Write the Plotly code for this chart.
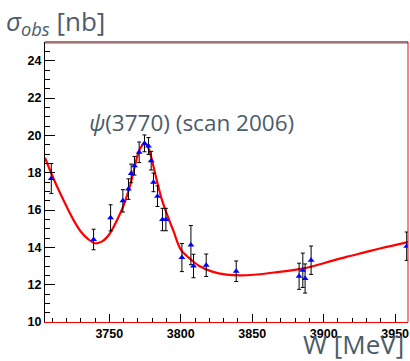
import plotly.graph_objects as go

# Measured data points
w_data = [3709.4, 3739.0, 3750.9, 3759.5, 3763.4, 3765.3, 3767.6, 3770.9, 3774.6,
          3777.4, 3779.3, 3780.9, 3783.7, 3787.2, 3789.6, 3800.8, 3807.1, 3808.9,
          3817.8, 3838.8, 3882.8, 3885.4, 3887.0, 3891.2, 3958.1]
sigma_data = [17.69, 14.42, 15.58, 16.49, 17.12, 17.96, 18.37, 19.09, 19.57,
              19.43, 18.64, 17.48, 16.74, 15.49, 15.49, 13.45, 14.12, 13.00,
              13.04, 12.72, 12.45, 12.77, 12.33, 13.31, 14.06]
sigma_err = [0.80, 0.55, 0.70, 0.60, 0.55, 0.50, 0.50, 0.55, 0.45,
             0.45, 0.50, 0.50, 0.55, 0.60, 0.60, 0.75, 1.05, 0.63,
             0.60, 0.55, 0.70, 0.92, 0.78, 0.76, 0.76]

# Fit curve
w_fit = [3705, 3710, 3715, 3720, 3725, 3730, 3735, 3740, 3745, 3750, 3755, 3760,
         3765, 3768, 3771, 3774, 3776, 3778, 3781, 3784, 3787, 3790, 3795, 3800,
         3806, 3813, 3822, 3832, 3842, 3851, 3865, 3883, 3893, 3905, 3916, 3928,
         3940, 3959]
sigma_fit = [18.8, 17.85, 17.0, 16.2, 15.46, 14.85, 14.45, 14.22, 14.32, 14.7, 15.4, 16.25,
             17.45, 18.4, 19.2, 19.52, 19.5, 19.2, 18.3, 17.35, 16.5, 15.85, 14.85, 13.88,
             13.42, 13.0, 12.7, 12.54, 12.5, 12.53, 12.65, 12.83, 13.0, 13.26, 13.49, 13.72,
             13.95, 14.28]

x_ticks = [3750, 3800, 3850, 3900, 3950]
y_ticks = [10, 12, 14, 16, 18, 20, 22, 24]

fig = go.Figure()
fig.add_trace(go.Scatter(x=w_fit, y=sigma_fit, mode="lines", line_shape="spline",
                         line=dict(color="#ff0000", width=2.2), hoverinfo="skip"))
fig.add_trace(go.Scatter(x=w_data, y=sigma_data, mode="markers",
                         marker=dict(symbol="triangle-up", color="#0000ff", size=6),
                         error_y=dict(type="data", array=sigma_err, color="black",
                                      thickness=1, width=2)))

tickfont = dict(family="Liberation Sans, Arial", size=12.5, color="black", weight="bold")
fig.update_xaxes(range=[3705, 3959], tickvals=x_ticks, ticks="inside", ticklen=8,
                 tickcolor="black", tickwidth=1, showgrid=False, zeroline=False,
                 showline=True, linecolor="#ff0000", linewidth=1, mirror=False,
                 tickfont=tickfont,
                 minor=dict(dtick=10, ticks="inside", ticklen=4, tickcolor="black", showgrid=False))
fig.update_yaxes(range=[10, 25], tickvals=y_ticks, ticks="inside", ticklen=10,
                 tickcolor="black", tickwidth=1, showgrid=False, zeroline=False,
                 showline=True, linecolor="black", linewidth=1, mirror=False,
                 tickfont=tickfont,
                 minor=dict(dtick=0.5, ticks="inside", ticklen=5, tickcolor="black", showgrid=False))

# frame lines
fig.add_shape(type="line", xref="x domain", yref="y domain", x0=0, x1=1, y0=1, y1=1,
              line=dict(color="black", width=1))
fig.add_shape(type="line", xref="x domain", yref="y domain", x0=0, x1=1,
              y0=1 - 1.2 / 280, y1=1 - 1.2 / 280, line=dict(color="#ff6060", width=1))
fig.add_shape(type="line", xref="x domain", yref="y domain", x0=1, x1=1, y0=0, y1=1,
              line=dict(color="#ff0000", width=1))

textcolor = "#4b5c6b"
fig.add_annotation(text="<i>ψ</i>(3770) (scan 2006)", xref="paper", yref="paper",
                   x=(87 - 45) / 363, y=(322 - 122) / 280, xanchor="left", yanchor="middle",
                   showarrow=False, font=dict(family="Open Sans", size=22.5, color=textcolor))
fig.add_annotation(text="<i>σ</i><sub><i>obs</i></sub> [nb]", xref="paper", yref="paper",
                   x=(4 - 45) / 363, y=(322 - 1) / 280, xanchor="left", yanchor="top",
                   showarrow=False, font=dict(family="Open Sans", size=26, color=textcolor))
fig.add_annotation(text="W [MeV]", xref="paper", yref="paper",
                   x=(406 - 45) / 363, y=(322 - 364) / 280, xanchor="right", yanchor="bottom",
                   showarrow=False, font=dict(family="Open Sans", size=26, color=textcolor))

fig.update_layout(width=410, height=361, margin=dict(l=45, r=2, t=42, b=39),
                  paper_bgcolor="white", plot_bgcolor="white", showlegend=False)

fig.write_html("out.html")
